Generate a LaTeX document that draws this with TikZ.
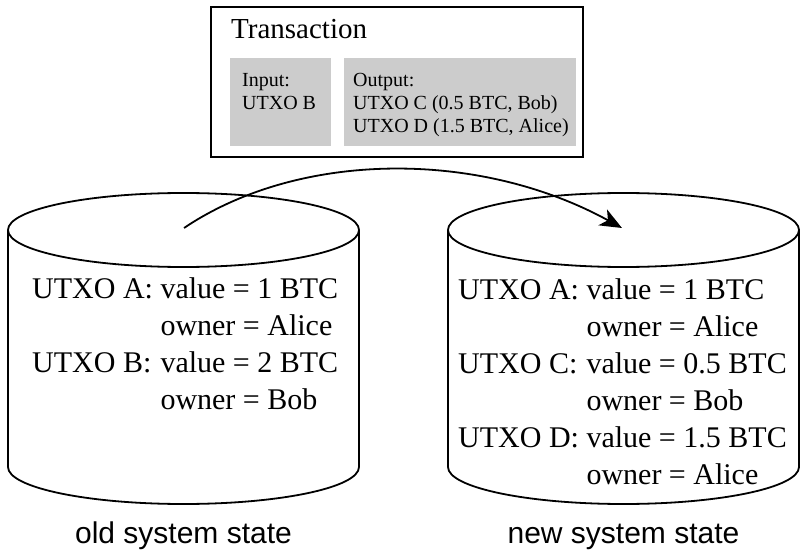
\documentclass[tikz,border=0pt]{standalone}
\usepackage{fontspec}
\setmainfont{Liberation Serif}
\setsansfont{Liberation Sans}
\usetikzlibrary{arrows.meta}
\begin{document}
\begin{tikzpicture}[x=1pt,y=1pt,
  outline/.style={line width=1.8pt},
  graybox/.style={fill=black!20, draw=none, inner sep=0pt},
  boxtext/.style={anchor=base west, inner sep=0pt, font=\fontsize{20}{23}\selectfont},
  dbtext/.style={anchor=base west, inner sep=0pt, font=\fontsize{30}{37}\selectfont},
  caption/.style={anchor=base, inner sep=0pt, font=\sffamily\fontsize{30}{36}\selectfont},
  flow/.style={line width=1.8pt, -{Stealth[length=22pt,width=18pt,inset=6pt]}}]
\useasboundingbox (0,0) rectangle (801,550);

% transaction box with its input and output parts
\node[draw, line width=2.2pt, minimum width=372pt, minimum height=150pt, inner sep=0pt] (tx) at (397,468) {};
\node[anchor=base west, inner sep=0pt, font=\fontsize{29}{34}\selectfont] (txtitle) at (231,511) {Transaction};
\node[graybox, minimum width=101pt, minimum height=88pt] (inbox) at (280.5,448) {};
\node[graybox, minimum width=232pt, minimum height=88pt] (outbox) at (460,448) {};
\node[boxtext] (intext) at (242,463) {\begin{tabular}[t]{@{}l@{}}Input:\\UTXO B\end{tabular}};
\node[boxtext] (outtext) at (353,463) {\begin{tabular}[t]{@{}l@{}}Output:\\UTXO C (0.5 BTC, Bob)\\UTXO D (1.5 BTC, Alice)\end{tabular}};

% old state database
\draw[outline] (183.5,320) ellipse [x radius=175.5, y radius=37];
\draw[outline] (8,320) -- (8,83) arc[start angle=180, end angle=360, x radius=175.5, y radius=37] -- (359,320);
\node[dbtext] (oldtext) at (32,252) {\begin{tabular}[t]{@{}l@{ }l@{}}UTXO A: & value = 1 BTC\\ & owner = Alice\\UTXO B: & value = 2 BTC\\ & owner = Bob\end{tabular}};
\node[caption] (oldlabel) at (183.5,7) {old system state};

% new state database
\draw[outline] (623.5,320) ellipse [x radius=175.5, y radius=37];
\draw[outline] (448,320) -- (448,83) arc[start angle=180, end angle=360, x radius=175.5, y radius=37] -- (799,320);
\node[dbtext] (newtext) at (458,251) {\begin{tabular}[t]{@{}l@{ }l@{}}UTXO A: & value = 1 BTC\\ & owner = Alice\\UTXO C: & value = 0.5 BTC\\ & owner = Bob\\UTXO D: & value = 1.5 BTC\\ & owner = Alice\end{tabular}};
\node[caption] (newlabel) at (623.5,7) {new system state};

% state transition
\coordinate (from) at (184,322);
\coordinate (to) at (622,322);
\draw[flow] (from) .. controls (300,400) and (480,400) .. (to);
\end{tikzpicture}
\end{document}
